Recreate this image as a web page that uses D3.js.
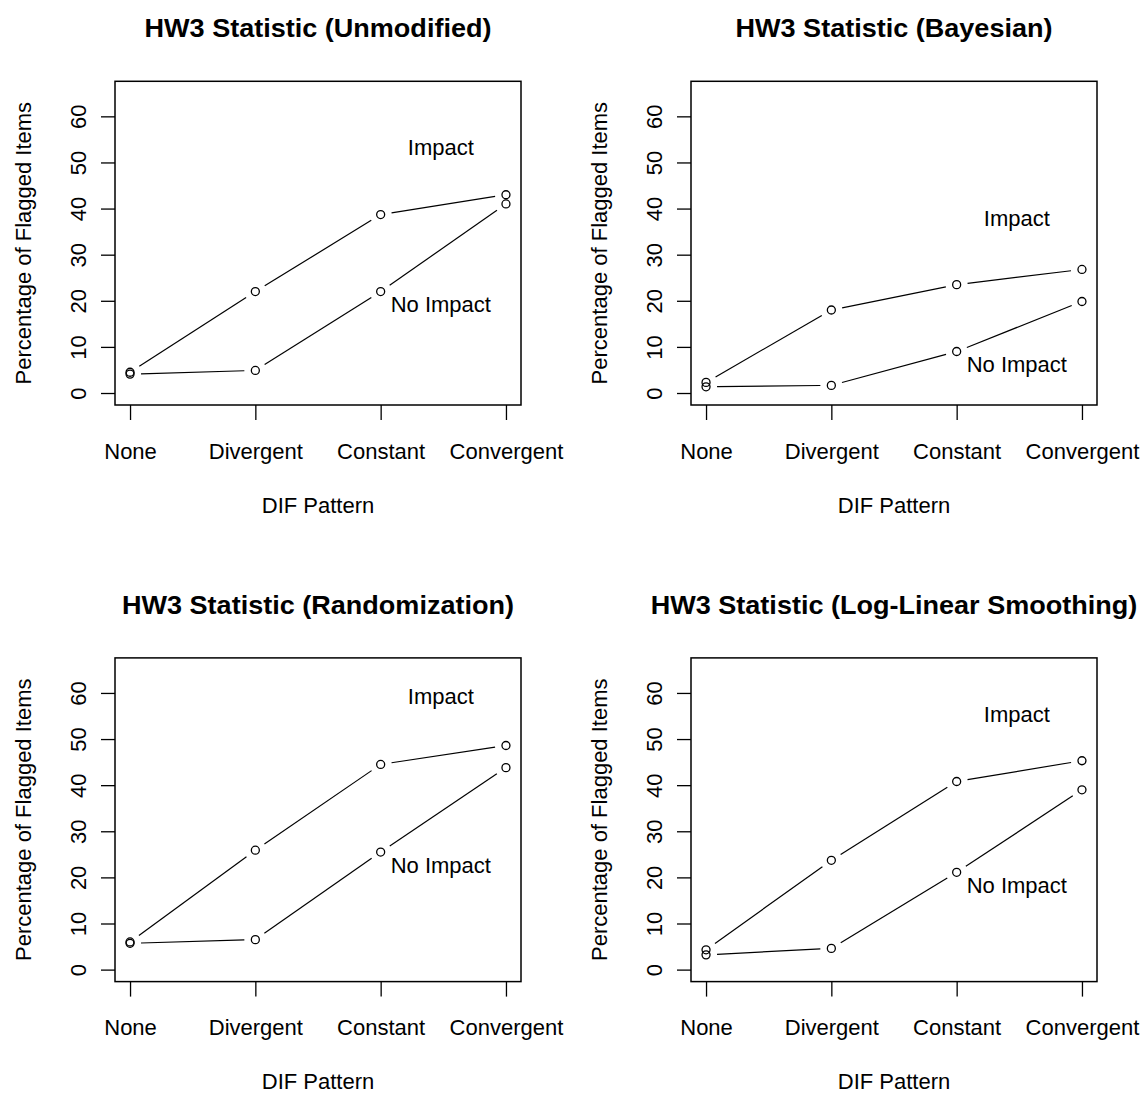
<!DOCTYPE html>
<html>
<head>
<meta charset="utf-8">
<script src="https://cdn.jsdelivr.net/npm/d3@7"></script>
<style>
  body { margin: 0; background: #fff; }
  svg text { font-family: "Liberation Sans", Arial, sans-serif; fill: #000; }
</style>
</head>
<body>
<svg id="chart"></svg>
<script>
var categories = ['None', 'Divergent', 'Constant', 'Convergent'];

var panelTitles = [
    'HW3 Statistic (Unmodified)',
    'HW3 Statistic (Bayesian)',
    'HW3 Statistic (Randomization)',
    'HW3 Statistic (Log-Linear Smoothing)'
];

var impactValues = [
    [4.5, 22.0, 38.7, 43.0],
    [2.3, 18.0, 23.5, 26.8],
    [6.0, 25.9, 44.5, 48.6],
    [4.3, 23.7, 40.8, 45.3]
];

var noImpactValues = [
    [4.1, 4.9, 22.0, 41.0],
    [1.35, 1.65, 9.0, 19.85],
    [5.7, 6.5, 25.5, 43.8],
    [3.2, 4.6, 21.1, 39.0]
];

// where the "Impact" / "No Impact" notes sit, in data units
var labelX = 3.48;
var impactLabelY = [53.4, 37.9, 59.2, 55.5];
var noImpactLabelY = [19.2, 6.2, 22.7, 18.3];

var yTicks = [0, 10, 20, 30, 40, 50, 60];
var xTitle = 'DIF Pattern';
var yTitle = 'Percentage of Flagged Items';

var W = 1144, H = 1093;
var boxW = 406, boxH = 323.7;
var fontSize = 22;
var gap = 11;

var svg = d3.select('svg#chart')
    .attr('width', W)
    .attr('height', H);

var drawPanel = function (p) {
    var col = p % 2, row = Math.floor(p / 2);
    var x0 = 115 + col * 576, y0 = 81.3 + row * 576.6;

    var x = d3.scaleLinear().domain([0.88, 4.12]).range([0, boxW]);
    var y = d3.scaleLinear().domain([-2.6, 67.6]).range([boxH, 0]);

    var g = svg.append('g')
        .attr('transform', 'translate(' + x0 + ',' + y0 + ')');

    // title
    g.append('text')
        .attr('transform', 'translate(' + (boxW / 2) + ',-44.4) scale(1.04,1)')
        .attr('text-anchor', 'middle')
        .style('font-weight', 'bold')
        .style('font-size', '26px')
        .text(panelTitles[p]);

    // y axis
    var yAxis = g.append('g')
        .call(d3.axisLeft(y).tickValues(yTicks).tickSize(14).tickSizeOuter(0));
    yAxis.select('.domain').remove();
    yAxis.selectAll('line').attr('stroke', '#000').attr('stroke-width', 1.3);
    yAxis.selectAll('text').remove();
    yAxis.selectAll('.tick').append('text')
        .attr('transform', 'translate(-29.5,0) rotate(-90)')
        .attr('text-anchor', 'middle')
        .attr('fill', '#000')
        .style('font-size', fontSize + 'px')
        .text(function (d) { return d; });

    // x axis
    var xAxis = g.append('g')
        .attr('transform', 'translate(0,' + boxH + ')')
        .call(d3.axisBottom(x).tickValues([1, 2, 3, 4]).tickSize(15).tickSizeOuter(0)
            .tickFormat(function (d) { return categories[d - 1]; }));
    xAxis.select('.domain').remove();
    xAxis.selectAll('line').attr('stroke', '#000').attr('stroke-width', 1.3);
    xAxis.selectAll('text')
        .attr('y', 53.7)
        .attr('dy', null)
        .attr('fill', '#000')
        .style('font-size', fontSize + 'px');

    // axis titles
    g.append('text')
        .attr('x', boxW / 2)
        .attr('y', boxH + 107.7)
        .attr('text-anchor', 'middle')
        .style('font-size', fontSize + 'px')
        .text(xTitle);
    g.append('text')
        .attr('transform', 'translate(-84,' + (boxH / 2) + ') rotate(-90)')
        .attr('text-anchor', 'middle')
        .style('font-size', fontSize + 'px')
        .text(yTitle);

    // series, drawn like R's type = "b"
    [impactValues[p], noImpactValues[p]].forEach(function (vals) {
        var pts = vals.map(function (v, i) { return [x(i + 1), y(v)]; });
        var segs = d3.pairs(pts).map(function (pr) {
            var dx = pr[1][0] - pr[0][0], dy = pr[1][1] - pr[0][1];
            var len = Math.sqrt(dx * dx + dy * dy);
            var ux = dx / len, uy = dy / len;
            return [pr[0][0] + ux * gap, pr[0][1] + uy * gap,
                    pr[1][0] - ux * gap, pr[1][1] - uy * gap];
        });
        g.selectAll(null).data(segs).enter().append('line')
            .attr('x1', function (d) { return d[0]; })
            .attr('y1', function (d) { return d[1]; })
            .attr('x2', function (d) { return d[2]; })
            .attr('y2', function (d) { return d[3]; })
            .attr('stroke', '#000')
            .attr('stroke-width', 1.2);
        g.selectAll(null).data(pts).enter().append('circle')
            .attr('cx', function (d) { return d[0]; })
            .attr('cy', function (d) { return d[1]; })
            .attr('r', 4)
            .attr('fill', 'none')
            .attr('stroke', '#000')
            .attr('stroke-width', 1.3);
    });

    // notes
    [['Impact', impactLabelY[p]], ['No Impact', noImpactLabelY[p]]].forEach(function (n) {
        g.append('text')
            .attr('x', x(labelX))
            .attr('y', y(n[1]) + 0.358 * fontSize)
            .attr('text-anchor', 'middle')
            .style('font-size', fontSize + 'px')
            .text(n[0]);
    });

    // box
    g.append('rect')
        .attr('width', boxW)
        .attr('height', boxH)
        .attr('fill', 'none')
        .attr('stroke', '#000')
        .attr('stroke-width', 1.5);
};

d3.range(4).forEach(drawPanel);
</script>
</body>
</html>
